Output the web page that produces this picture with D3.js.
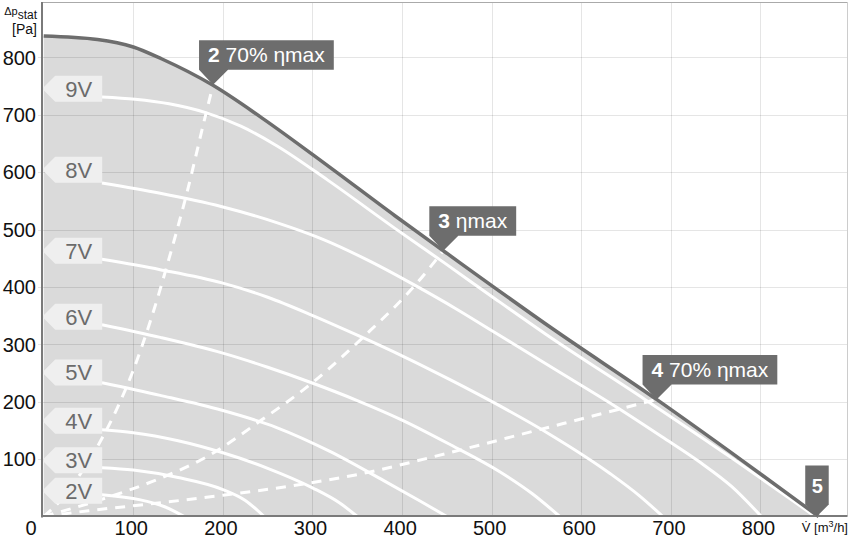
<!DOCTYPE html>
<html><head><meta charset="utf-8">
<script src="https://cdn.jsdelivr.net/npm/d3@7"></script>
<style>
html,body{margin:0;padding:0;background:#fff;}
svg{display:block;font-family:"Liberation Sans",Arial,sans-serif;}
</style></head>
<body>
<svg id="c" width="850" height="539"></svg>
<script>
// ---- data (flow V in m3/h, static pressure in Pa) ----
const xTicks = [100,200,300,400,500,600,700,800];
const yTicks = [100,200,300,400,500,600,700,800];

const maxCurve = [[0,837],[60,831],[100,818],[132,797],[188,752],[243,695],[318,610],[392,524],[446,463],[568,327],[684,204],[780,97],[865,0]];

const v9 = [[65,731],[102,727],[140,719],[180,704],[220,680],[260,646],[317,586],[392,502],[448,441],[504,379],[560,318],[671,204],[766,104],[833,31],[861,0]];
const v8 = [[65,581],[130,563],[198,540],[260,512],[313,482],[365,444],[414,403],[460,362],[504,320],[570,257],[640,190],[690,139],[733,94],[768,52],[801,0]];
const v7 = [[65,448],[130,430],[199,407],[250,382],[299,351],[350,316],[400,280],[454,238],[504,197],[565,143],[632,75],[665,36],[691,0]];
const v6 = [[65,334],[130,312],[199,285],[250,260],[299,233],[350,202],[400,168],[454,125],[509,78],[545,40],[576,0]];
const v5 = [[65,233],[130,211],[199,185],[260,155],[320,113],[380,62],[420,27],[450,0]];
const v4 = [[65,151],[100,146],[150,132],[200,111],[250,84],[300,50],[330,24],[350,0]];
const v3 = [[65,85],[100,81],[150,68],[200,47],[225,28],[246,0]];
const v2 = [[65,38],[108,29],[135,17],[157,0]];

const voltageCurves = [v2,v3,v4,v5,v6,v7,v8,v9];
const voltageNames  = ["2V","3V","4V","5V","6V","7V","8V","9V"];
const voltageLabelY = [45,98,167,251,348,463,604,745];

const eta70Left  = [[0,0],[20,30],[40,72],[60,122],[80,182],[100,255],[120,345],[140,450],[160,565],[180,695],[189,752]];
const etaMax     = [[0,0],[63,29],[126,64],[182,104],[243,168],[299,232],[357,313],[414,402],[446,463]];
const eta70Right = [[0,0],[50,10],[125,23],[200,37],[275,53],[350,73],[450,110],[550,150],[640,186],[684,204]];

const callouts = [
  {num:"2", text:" 70% \u03b7max", at:[189,752]},
  {num:"3", text:" \u03b7max",     at:[446,463]},
  {num:"4", text:" 70% \u03b7max", at:[684,204]}
];
const endPoint = {num:"5", at:[865,0]};

// ---- scales ----
const svg = d3.select("#c");
const x = d3.scaleLinear().domain([0,897]).range([43.7,847.4]);
const y = d3.scaleLinear().domain([0,896]).range([516.5,2.2]);

const line = d3.line().x(d=>x(d[0])).y(d=>y(d[1])).curve(d3.curveMonotoneX);
const area = d3.area().x(d=>x(d[0])).y0(y(0)).y1(d=>y(d[1])).curve(d3.curveMonotoneX);

svg.append("rect").attr("x",0).attr("y",0).attr("width",850).attr("height",539).attr("fill","#fff");

// fill under max curve
svg.append("path").datum(maxCurve).attr("d",area).attr("fill","#dadada");

// grid
const g = svg.append("g").attr("stroke","rgba(0,0,0,0.1)").attr("stroke-width",1);
g.selectAll("line.v").data(xTicks).enter().append("line")
  .attr("x1",d=>Math.round(x(d))+0.5).attr("x2",d=>Math.round(x(d))+0.5)
  .attr("y1",y.range()[1]).attr("y2",y(0));
g.selectAll("line.h").data(yTicks).enter().append("line")
  .attr("x1",38).attr("x2",x.range()[1])
  .attr("y1",d=>Math.round(y(d))+0.5).attr("y2",d=>Math.round(y(d))+0.5);

// frame
svg.append("line").attr("x1",42).attr("x2",x.range()[1]).attr("y1",2.5).attr("y2",2.5).attr("stroke","#aaa").attr("stroke-width",1);
svg.append("line").attr("x1",847.5).attr("x2",847.5).attr("y1",2).attr("y2",y(0)).attr("stroke","#ccc").attr("stroke-width",1);

// voltage curves
svg.append("g").selectAll("path").data(voltageCurves).enter().append("path")
  .attr("d",line).attr("fill","none").attr("stroke","#fff").attr("stroke-width",3);

// efficiency dashed lines
svg.append("g").selectAll("path").data([eta70Left,etaMax,eta70Right]).enter().append("path")
  .attr("d",line)
  .attr("fill","none").attr("stroke","#fff").attr("stroke-width",3).attr("stroke-dasharray","10,8");

// max curve
svg.append("path").datum(maxCurve).attr("d",line).attr("fill","none").attr("stroke","#6d6d6d").attr("stroke-width",3.5);

// voltage labels
const x0 = x(0);
const vl = svg.append("g");
voltageNames.forEach((n,i)=>{
  const cy = y(voltageLabelY[i]);
  vl.append("path")
    .attr("d",`M${x0-1.5},${cy} L${x0+11.5},${cy-13} L${x0+58.5},${cy-13} L${x0+58.5},${cy+13} L${x0+11.5},${cy+13} Z`)
    .attr("fill","#efefef");
  vl.append("text").attr("x",x0+35).attr("y",cy).attr("dy","0.36em").attr("text-anchor","middle")
    .attr("font-size",22).attr("fill","#6b6b6b").text(n);
});

// axes lines
svg.append("line").attr("x1",42).attr("x2",42).attr("y1",2).attr("y2",y(0)+1).attr("stroke","#7a7a7a").attr("stroke-width",2);
svg.append("line").attr("x1",41).attr("x2",x.range()[1]).attr("y1",516).attr("y2",516).attr("stroke","#7a7a7a").attr("stroke-width",2);

// callouts
const cg = svg.append("g");
callouts.forEach(c=>{
  const tx = x(c.at[0]), ty = y(c.at[1]);
  const left = tx-14, bottom = ty-15, top = bottom-29.5;
  const t = cg.append("text").attr("x",left+9).attr("y",top+22).attr("font-size",21).attr("fill","#fff");
  t.append("tspan").attr("font-weight","bold").text(c.num);
  t.append("tspan").text(c.text);
  const w = t.node().getComputedTextLength()+18;
  cg.insert("path","text")
    .attr("d",`M${left},${top} L${left+w},${top} L${left+w},${bottom} L${left+29},${bottom} L${tx},${ty} L${left},${bottom} Z`)
    .attr("fill","#6d6d6d");
});
{
  const tx = x(endPoint.at[0])-2, ty = y(endPoint.at[1]);
  cg.append("path")
    .attr("d",`M${tx-11.5},${ty-51} L${tx+12},${ty-51} L${tx+12},${ty-12} L${tx},${ty} L${tx-11.5},${ty-12} Z`)
    .attr("fill","#6d6d6d");
  cg.append("text").attr("x",tx+0.5).attr("y",ty-24).attr("text-anchor","middle")
    .attr("font-size",20).attr("font-weight","bold").attr("fill","#fff").text(endPoint.num);
}

// tick labels
const tl = svg.append("g").attr("font-size",20).attr("fill","#111");
tl.selectAll("text.x").data(xTicks).enter().append("text")
  .attr("x",d=>x(d)-2).attr("y",535).attr("text-anchor","middle").text(d=>d);
tl.selectAll("text.y").data(yTicks).enter().append("text")
  .attr("x",36).attr("y",d=>y(d)).attr("dy","0.36em").attr("text-anchor","end").text(d=>d);
tl.append("text").attr("x",31).attr("y",535).attr("text-anchor","middle").text("0");

// axis titles
const yt = svg.append("text").attr("x",37).attr("y",15).attr("text-anchor","end").attr("fill","#111").attr("font-size",11);
yt.append("tspan").text("\u0394p");
yt.append("tspan").attr("dy",4).attr("font-size",12).text("stat");
svg.append("text").attr("x",37).attr("y",34).attr("text-anchor","end").attr("fill","#111").attr("font-size",14).text("[Pa]");

const xt = svg.append("text").attr("x",848).attr("y",532).attr("text-anchor","end").attr("fill","#111").attr("font-size",13);
xt.append("tspan").text("V\u0307 [m");
xt.append("tspan").attr("dy",-5).attr("font-size",9).text("3");
xt.append("tspan").attr("dy",5).text("/h]");
</script>
</body></html>
